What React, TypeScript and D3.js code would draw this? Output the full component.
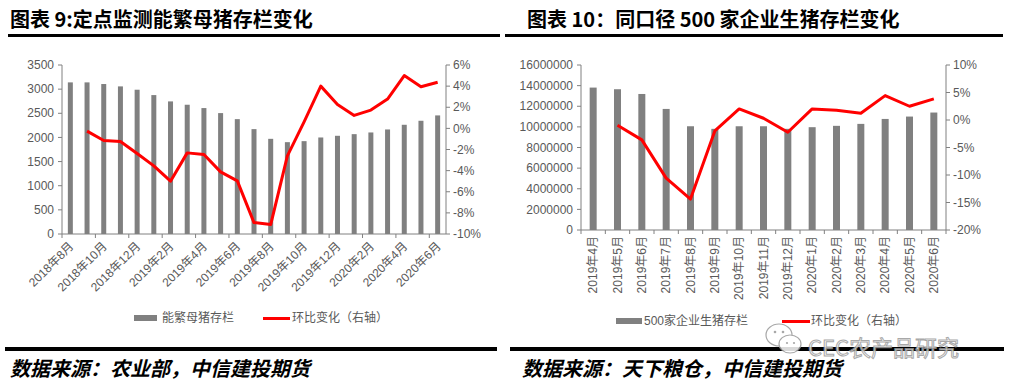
import React from "react";
import * as d3 from "d3";

// ---- Left chart data ----
const leftMonths = [
  "2018年8月","2018年9月","2018年10月","2018年11月","2018年12月",
  "2019年1月","2019年2月","2019年3月","2019年4月","2019年5月","2019年6月",
  "2019年7月","2019年8月","2019年9月","2019年10月","2019年11月","2019年12月",
  "2020年1月","2020年2月","2020年3月","2020年4月","2020年5月","2020年6月",
];
const sowStock = [
  3140, 3140, 3106, 3057, 2988, 2877, 2746, 2677, 2608, 2504, 2379, 2172,
  1971, 1902, 1923, 1999, 2034, 2068, 2103, 2165, 2262, 2345, 2456,
];
const sowMoM: (number | null)[] = [
  null, -0.26, -1.15, -1.24, -2.38, -3.55, -5.0, -2.32, -2.47, -4.12, -4.97,
  -8.92, -9.11, -2.6, 0.62, 4.0, 2.27, 1.23, 1.73, 2.77, 5.0, 3.94, 4.36,
];
const leftYTicks = [0, 500, 1000, 1500, 2000, 2500, 3000, 3500];
const leftY2Ticks = [-10, -8, -6, -4, -2, 0, 2, 4, 6];

// ---- Right chart data ----
const rightMonths = [
  "2019年4月","2019年5月","2019年6月","2019年7月","2019年8月","2019年9月",
  "2019年10月","2019年11月","2019年12月","2020年1月","2020年2月","2020年3月",
  "2020年4月","2020年5月","2020年6月",
];
const hogStock = [
  13810000, 13650000, 13190000, 11740000, 10060000, 9810000, 10060000,
  10060000, 9810000, 9970000, 10100000, 10290000, 10770000, 11000000, 11390000,
];
const hogMoM: (number | null)[] = [
  null, -0.95, -3.61, -10.57, -14.38, -1.98, 2.01, 0.32, -2.22, 2.01, 1.77,
  1.23, 4.43, 2.5, 3.83,
];
const rightYTicks = [0, 2000000, 4000000, 6000000, 8000000, 10000000, 12000000, 14000000, 16000000];
const rightY2Ticks = [-20, -15, -10, -5, 0, 5, 10];

const TXT = "#595959";
const AX = "#808080";
const BAR = "#808080";
const RED = "#ff0000";
const FONT = "'Liberation Sans', Arial, 'Noto Sans CJK SC', sans-serif";
const CJK = "'Noto Sans CJK SC', sans-serif";

type PanelProps = {
  months: string[];
  bars: number[];
  line: (number | null)[];
  yTicks: number[];
  y2Ticks: number[];
  x0: number; x1: number; yTop: number; yBot: number;
  barW: number;
  labelEvery: number;
  rotate: number;
  y2Fmt: (v: number) => string;
};

function Panel(p: PanelProps) {
  const x = d3.scaleBand<string>().domain(p.months).range([p.x0, p.x1]).paddingInner(0).paddingOuter(0);
  const y = d3.scaleLinear().domain([p.yTicks[0], p.yTicks[p.yTicks.length - 1]]).range([p.yBot, p.yTop]);
  const y2 = d3.scaleLinear().domain([p.y2Ticks[0], p.y2Ticks[p.y2Ticks.length - 1]]).range([p.yBot, p.yTop]);
  const cx = (m: string) => (x(m) as number) + x.bandwidth() / 2;
  const lineGen = d3.line<[string, number | null]>()
    .defined((d) => d[1] !== null)
    .x((d) => cx(d[0]))
    .y((d) => y2(d[1] as number));
  const pts: [string, number | null][] = p.months.map((m, i) => [m, p.line[i]]);
  const bw = x.bandwidth();
  const tickXs: number[] = [];
  for (let i = 0; i <= p.months.length; i += p.labelEvery) tickXs.push(p.x0 + i * bw);
  return (
    <g>
      {p.months.map((m, i) => (
        <rect key={m} x={cx(m) - p.barW / 2} y={y(p.bars[i])} width={p.barW}
          height={p.yBot - y(p.bars[i])} fill={BAR} />
      ))}
      {/* left axis */}
      <line x1={p.x0} x2={p.x0} y1={p.yTop} y2={p.yBot} stroke={AX} strokeWidth={1} />
      {p.yTicks.map((t) => (
        <g key={"l" + t}>
          <line x1={p.x0 - 4} x2={p.x0} y1={y(t)} y2={y(t)} stroke={AX} />
          <text x={p.x0 - 8} y={y(t)} dy="0.35em" textAnchor="end" fontSize={12} fill={TXT} fontFamily={FONT}>{t}</text>
        </g>
      ))}
      {/* right axis */}
      <line x1={p.x1} x2={p.x1} y1={p.yTop} y2={p.yBot} stroke={AX} strokeWidth={1} />
      {p.y2Ticks.map((t) => (
        <g key={"r" + t}>
          <line x1={p.x1} x2={p.x1 + 4} y1={y2(t)} y2={y2(t)} stroke={AX} />
          <text x={p.x1 + 7} y={y2(t)} dy="0.35em" textAnchor="start" fontSize={12} fill={TXT} fontFamily={FONT}>{p.y2Fmt(t)}</text>
        </g>
      ))}
      {/* bottom axis */}
      <line x1={p.x0} x2={p.x1} y1={p.yBot} y2={p.yBot} stroke={AX} strokeWidth={1} />
      {tickXs.map((tx, i) => (
        <line key={"t" + i} x1={tx} x2={tx} y1={p.yBot} y2={p.yBot + 4} stroke={AX} />
      ))}
      {p.months.map((m, i) =>
        i % p.labelEvery === 0 ? (
          p.rotate === -45 ? (
            <text key={"x" + m} transform={`translate(${cx(m) + 4},${p.yBot + 13}) rotate(-45)`}
              textAnchor="end" fontSize={12} fill={TXT} fontFamily={FONT}>{m}</text>
          ) : (
            <text key={"x" + m} transform={`translate(${cx(m) + 4},${p.yBot + 6}) rotate(-90)`}
              textAnchor="end" fontSize={12} fill={TXT} fontFamily={FONT}>{m}</text>
          )
        ) : null
      )}
      <path d={lineGen(pts) || ""} fill="none" stroke={RED} strokeWidth={3} strokeLinejoin="round" />
    </g>
  );
}

export default function App() {
  const pct = (v: number) => `${v}%`;
  return (
    <svg width={1011} height={388} style={{ display: "block", position: "absolute", left: 0, top: 0, background: "#fff" }}>
      <rect width={1011} height={388} fill="#fff" />
      {/* titles */}
      <text x={10} y={27} fontSize={20} fontWeight="bold" fontFamily={CJK} fill="#000">图表 9:定点监测能繁母猪存栏变化</text>
      <rect x={8} y={34} width={492} height={3} fill="#000" />
      <text x={527} y={27} fontSize={20} fontWeight="bold" fontFamily={CJK} fill="#000">图表 10：同口径 500 家企业生猪存栏变化</text>
      <rect x={505} y={34} width={498} height={3} fill="#000" />

      <Panel months={leftMonths} bars={sowStock} line={sowMoM} yTicks={leftYTicks} y2Ticks={leftY2Ticks}
        x0={62} x1={446} yTop={65} yBot={234} barW={5} labelEvery={2} rotate={-45} y2Fmt={pct} />
      <Panel months={rightMonths} bars={hogStock} line={hogMoM} yTicks={rightYTicks} y2Ticks={rightY2Ticks}
        x0={581} x1={946} yTop={65} yBot={230} barW={7} labelEvery={1} rotate={-90} y2Fmt={pct} />

      {/* legends */}
      <rect x={134} y={315} width={23} height={6} fill={BAR} />
      <text x={162} y={318} dy="0.35em" fontSize={12} fill={TXT} fontFamily={FONT}>能繁母猪存栏</text>
      <rect x={263} y={317} width={27} height={3} fill={RED} />
      <text x={292} y={318} dy="0.35em" fontSize={12} fill={TXT} fontFamily={FONT}>环比变化（右轴）</text>

      <rect x={616} y={318} width={26} height={6} fill={BAR} />
      <text x={644} y={321} dy="0.35em" fontSize={12} fill={TXT} fontFamily={FONT}>500家企业生猪存栏</text>
      <rect x={782} y={320} width={28} height={3} fill={RED} />
      <text x={811} y={321} dy="0.35em" fontSize={12} fill={TXT} fontFamily={FONT}>环比变化（右轴）</text>

      {/* bottom rules */}
      <rect x={5} y={347} width={492} height={4} fill="#000" />
      <rect x={510} y={347} width={494} height={4} fill="#000" />

      {/* sources */}
      <text x={10} y={376} fontSize={20} fontWeight="bold" fontStyle="italic" fontFamily={CJK} fill="#000">数据来源：农业部，中信建投期货</text>
      <text x={522} y={376} fontSize={20} fontWeight="bold" fontStyle="italic" fontFamily={CJK} fill="#000">数据来源：天下粮仓，中信建投期货</text>

      {/* watermark */}
      <g opacity={0.85}>
        <ellipse cx={779} cy={335} rx={13} ry={11} fill="#fff" stroke="#999" strokeWidth={1.2} />
        <ellipse cx={790} cy={344} rx={11} ry={9} fill="#fff" stroke="#999" strokeWidth={1.2} />
        <circle cx={775} cy={332} r={1.3} fill="#999" />
        <circle cx={783} cy={332} r={1.3} fill="#999" />
        <circle cx={787} cy={343} r={1.1} fill="#999" />
        <circle cx={794} cy={343} r={1.1} fill="#999" />
        <text x={808} y={356} fontSize={22} fontFamily={CJK} fill="#fff" stroke="#999" strokeWidth={1}>CEC农产品研究</text>
      </g>
    </svg>
  );
}
